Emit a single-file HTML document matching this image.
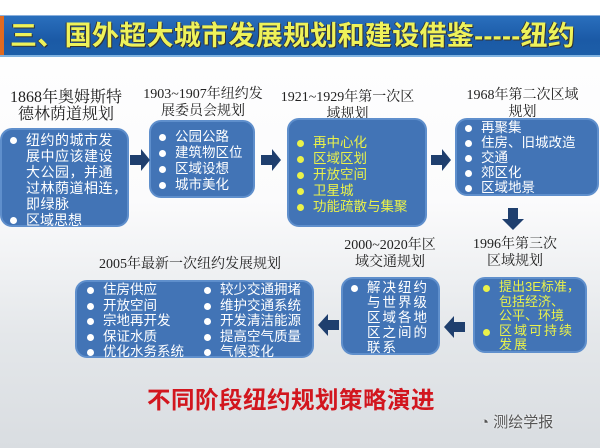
<!DOCTYPE html>
<html><head><meta charset="utf-8"><style>
*{margin:0;padding:0;box-sizing:border-box}
body{width:600px;height:448px;overflow:hidden;position:relative;font-family:"Liberation Sans","Noto Sans CJK SC",sans-serif;background:linear-gradient(180deg,#fff 0%,#fbfbfc 45%,#e4e7ea 75%,#d9dde1 100%)}
.bar{position:absolute;left:0;top:15px;width:600px;height:42px;background:linear-gradient(180deg,#2a6fbd,#1b5aa6 60%,#1c5ea8);border-top:1px solid #8ab0dc;border-bottom:2px solid #7fb2e0}
.bar:before{content:"";position:absolute;left:0;top:0;width:4px;height:100%;background:#e06a20}
.ttl{position:absolute;left:10px;top:3px;font-size:27px;font-weight:bold;color:#eef25a;white-space:nowrap;line-height:34px;letter-spacing:0.3px;text-shadow:1px 1px 0 #333,-1px 0 0 #333}
.box{position:absolute;background:#4274b6;border:2px solid #5f8fcc;border-radius:12px;color:#fff;font-size:14px}
.box ul{list-style:none}
.box li{position:relative;padding-left:24px;line-height:16px;white-space:nowrap}
.box li:before{content:"";position:absolute;left:8px;top:5px;width:7px;height:7px;border-radius:50%;background:#fff}
.y li{color:#eaf24a}.y li:before{background:#eaf24a}
.h{position:absolute;text-align:center;font-family:"Liberation Serif","Noto Serif CJK SC",serif;font-size:14px;color:#222;line-height:17px}
</style></head><body>
<div class="bar"><div class="ttl">三、国外超大城市发展规划和建设借鉴-----纽约</div></div>

<div class="h" style="left:2px;top:89px;width:128px;font-size:16px;line-height:17px">1868年奥姆斯特<br>德林荫道规划</div>
<div class="h" style="left:138px;top:86px;width:130px">1903~1907年纽约发<br>展委员会规划</div>
<div class="h" style="left:280px;top:89px;width:135px">1921~1929年第一次区<br>域规划</div>
<div class="h" style="left:455px;top:87px;width:135px">1968年第二次区域<br>规划</div>

<div class="box" style="left:0;top:128px;width:129px;height:99px;padding-top:2px"><ul>
<li style="letter-spacing:0.5px">纽约的城市发<br>展中应该建设<br>大公园，并通<br>过林荫道相连，<br>即绿脉</li><li>区域思想</li></ul></div>
<div class="box" style="left:149px;top:120px;width:106px;height:78px;padding-top:7px;font-size:13.5px"><ul>
<li>公园公路</li><li>建筑物区位</li><li>区域设想</li><li>城市美化</li></ul></div>
<div class="box y" style="left:287px;top:118px;width:140px;height:109px;padding-top:15px;font-size:13.5px"><ul>
<li>再中心化</li><li>区域区划</li><li>开放空间</li><li>卫星城</li><li>功能疏散与集聚</li></ul></div>
<div class="box" style="left:455px;top:118px;width:144px;height:78px;padding-top:0px;font-size:13.5px"><ul>
<li style="line-height:15px">再聚集</li><li style="line-height:15px">住房、旧城改造</li><li style="line-height:15px">交通</li><li style="line-height:15px">郊区化</li><li style="line-height:15px">区域地景</li></ul></div>

<svg style="position:absolute;left:0;top:0" width="600" height="448">
<g fill="#1f3f6e">
<polygon points="130,155 141,155 141,149 150,160 141,171 141,165 130,165"/>
<polygon points="261,155 272,155 272,149 281,160 272,171 272,165 261,165"/>
<polygon points="431,155 442,155 442,149 451,160 442,171 442,165 431,165"/>
<polygon points="508,208 518,208 518,219 524,219 513,230 502,219 508,219"/>
<polygon points="339,320 328,320 328,314 318,325 328,336 328,330 339,330"/>
<polygon points="465,322 454,322 454,316 444,327 454,338 454,332 465,332"/>
</g></svg>

<div class="h" style="left:465px;top:236px;width:100px">1996年第三次<br>区域规划</div>
<div class="h" style="left:335px;top:237px;width:110px">2000~2020年区<br>域交通规划</div>
<div class="h" style="left:95px;top:256px;width:190px">2005年最新一次纽约发展规划</div>

<div class="box y" style="left:473px;top:277px;width:114px;height:76px;padding-top:1px;font-size:13px"><ul>
<li style="line-height:14.5px">提出3E标准，<br>包括经济、<br>公平、环境</li><li style="letter-spacing:2px;line-height:14.5px">区域可持续<br>发展</li></ul></div>
<div class="box" style="left:341px;top:277px;width:99px;height:78px;padding-top:1px;font-size:13.5px"><ul>
<li style="letter-spacing:2px;line-height:15px">解决纽约<br>与世界级<br>区域各地<br>区之间的<br>联系</li></ul></div>
<div class="box" style="left:75px;top:280px;width:239px;height:78px;font-size:13.5px">
<ul style="position:absolute;left:2px;top:0px"><li style="line-height:15.5px">住房供应</li><li style="line-height:15.5px">开放空间</li><li style="line-height:15.5px">宗地再开发</li><li style="line-height:15.5px">保证水质</li><li style="line-height:15.5px">优化水务系统</li></ul>
<ul style="position:absolute;left:119px;top:0px"><li style="line-height:15.5px">较少交通拥堵</li><li style="line-height:15.5px">维护交通系统</li><li style="line-height:15.5px">开发清洁能源</li><li style="line-height:15.5px">提高空气质量</li><li style="line-height:15.5px">气候变化</li></ul></div>

<div style="position:absolute;left:147px;top:381px;font-size:23.5px;font-weight:bold;color:#d2161e;white-space:nowrap;letter-spacing:0.5px">不同阶段纽约规划策略演进</div>
<div style="position:absolute;left:480px;top:411px;font-size:15px;color:#555;white-space:nowrap;text-shadow:0 0 2px #fff">◔ 测绘学报</div>
</body></html>
